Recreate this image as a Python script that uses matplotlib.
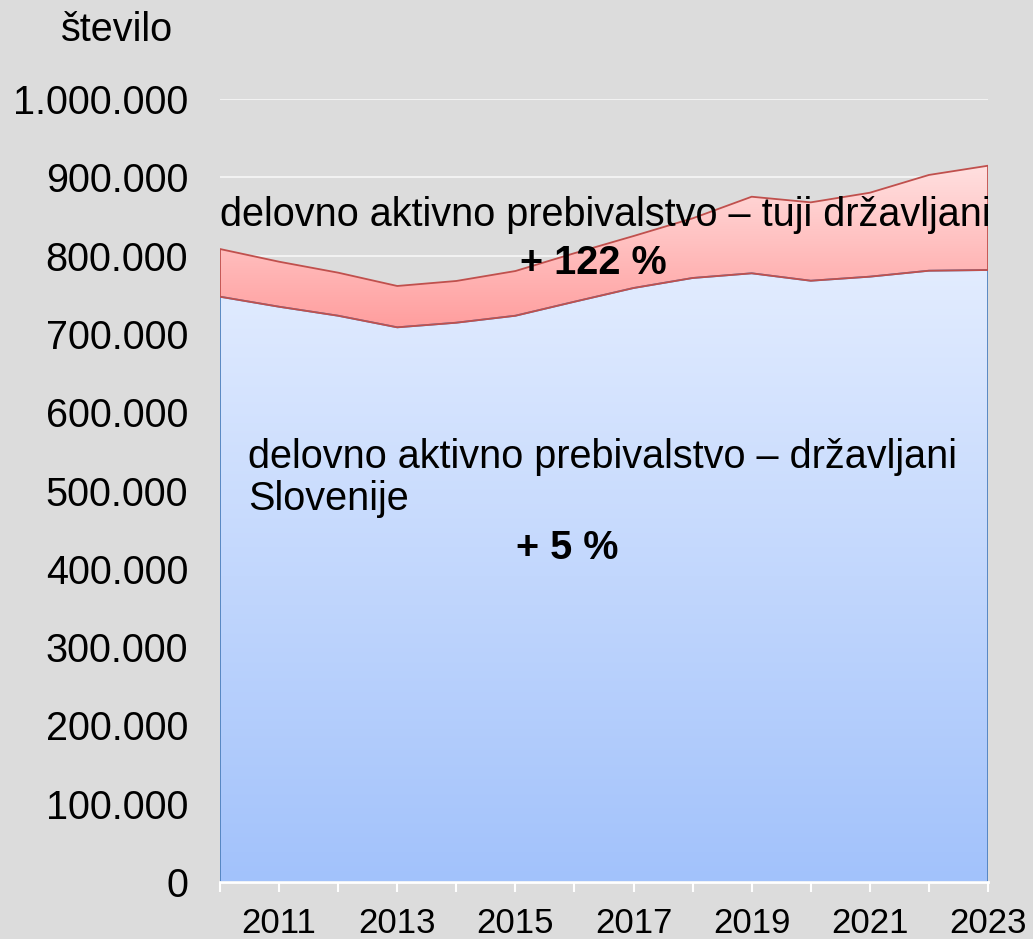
import matplotlib.pyplot as plt
import numpy as np
from matplotlib.colors import LinearSegmentedColormap

plt.rcParams['font.family'] = ['Liberation Sans', 'DejaVu Sans']

# data
years = [2010, 2011, 2012, 2013, 2014, 2015, 2016, 2017, 2018, 2019, 2020, 2021, 2022, 2023]
slovenes = [747500, 734700, 723200, 708400, 714300, 723200, 741100, 758600, 771400,
            777400, 767900, 773100, 780700, 781600]
foreigners = [60900, 57500, 55000, 52800, 53300, 57100, 62000, 66400, 76200,
              97800, 100100, 107200, 122300, 133200]
yticks = [0, 100000, 200000, 300000, 400000, 500000, 600000, 700000, 800000, 900000, 1000000]
ytick_labels = ['0', '100.000', '200.000', '300.000', '400.000', '500.000', '600.000',
                '700.000', '800.000', '900.000', '1.000.000']
xticks = [2011, 2013, 2015, 2017, 2019, 2021, 2023]

bg = '#dcdcdc'
x = np.array(years, dtype=float)
low = np.array(slovenes, dtype=float)
top = low + np.array(foreigners, dtype=float)


def gradient_fill(ax, x, y0, y1, c_top, c_bottom, edge):
    poly = ax.fill_between(x, y0, y1, facecolor='none', edgecolor=edge, linewidth=1.3, zorder=3)
    cmap = LinearSegmentedColormap.from_list('g', [c_bottom, c_top])
    grad = np.linspace(0, 1, 256).reshape(-1, 1)
    im = ax.imshow(grad, cmap=cmap, aspect='auto', origin='lower',
                   extent=[x.min(), x.max(), np.min(y0), np.max(y1)], zorder=2)
    path = poly.get_paths()[0]
    im.set_clip_path(path, transform=ax.transData)
    return poly


fig = plt.figure(figsize=(10.33, 9.39), dpi=100, facecolor=bg)
ax = fig.add_axes([220 / 1033, 1 - 882 / 939, 768 / 1033, 783 / 939])
ax.set_facecolor(bg)

gradient_fill(ax, x, np.zeros_like(low), low, '#e2ecff', '#a2c2fb', '#4f81bd')
gradient_fill(ax, x, low, top, '#ffe0e0', '#ff9e9e', '#c0504d')

ax.set_xlim(2010, 2023)
ax.set_ylim(0, 1000000)

ax.set_yticks(yticks)
ax.set_yticklabels(ytick_labels, fontsize=28.5)
ax.yaxis.grid(True, color='#f2f2f2', linewidth=1.5, zorder=1)
ax.set_axisbelow(True)
ax.tick_params(axis='y', length=0, pad=23)

ax.set_xticks(xticks)
ax.set_xticklabels([str(v) for v in xticks], fontsize=25)
ax.set_xticks(years, minor=True)
ax.tick_params(axis='x', which='both', length=7, width=1.5, color='white', pad=11)

for s in ['top', 'right', 'left']:
    ax.spines[s].set_visible(False)
ax.spines['bottom'].set_color('white')
ax.spines['bottom'].set_linewidth(2)
ax.spines['bottom'].set_zorder(4)

fig.text(117 / 1033, 1 - 30 / 939, 'število', fontsize=28.5, ha='center', va='center')
fig.text(220 / 1033, 1 - 215 / 939, 'delovno aktivno prebivalstvo – tuji državljani',
         fontsize=28.5, ha='left', va='center', zorder=5)
fig.text(593 / 1033, 1 - 263 / 939, '+ 122 %', fontsize=28.5, fontweight='bold',
         ha='center', va='center')
fig.text(248 / 1033, 1 - 478 / 939, 'delovno aktivno prebivalstvo – državljani\nSlovenije',
         fontsize=28.5, ha='left', va='center', linespacing=1.15)
fig.text(567 / 1033, 1 - 548 / 939, '+ 5 %', fontsize=28.5, fontweight='bold',
         ha='center', va='center')

fig.savefig('out.png', dpi=100, facecolor=bg)
